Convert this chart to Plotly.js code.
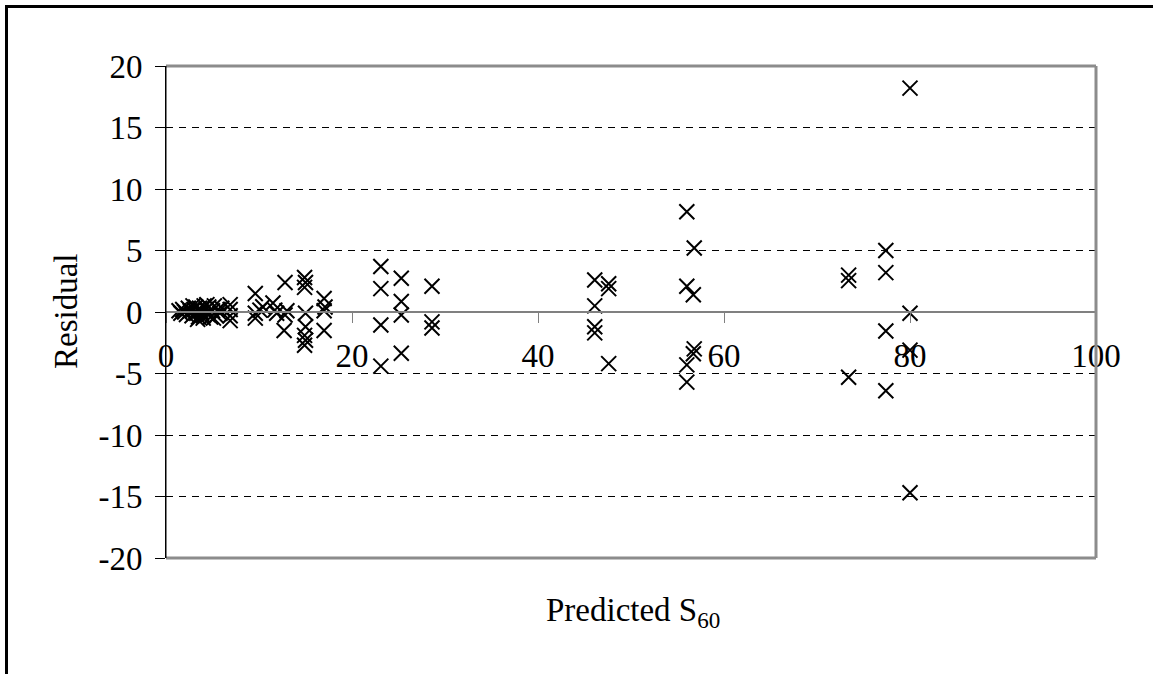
<!DOCTYPE html>
<html>
<head>
<meta charset="utf-8">
<script src="https://cdn.plot.ly/plotly-3.0.1.min.js"></script>
<style>
  html, body { margin: 0; padding: 0; background: #fff; }
  #chart { width: 1153px; height: 674px; }
</style>
</head>
<body>
<div id="chart"></div>
<script>
// Predicted S60 (x) and residual (y)
const predicted = [
  1.4, 1.6, 1.8, 2.0, 2.2, 2.4, 2.6, 2.8, 3.0, 3.2, 3.3, 3.5, 3.6, 3.8, 4.0,
  4.1, 4.3, 4.5, 4.6, 4.8, 5.0, 5.2, 5.4, 5.6, 5.8, 6.0, 6.9, 6.9, 6.9, 6.9,
  3.4, 4.4, 5.1, 2.9, 4.0,
  9.6, 9.6, 9.6, 10.1, 10.4, 11.5, 11.7, 11.9, 12.8, 12.8, 12.7, 13.0,
  14.9, 15.0, 14.9, 15.0, 15.0, 14.9, 15.0, 14.9,
  17.0, 17.1, 17.0, 17.0,
  23.1, 23.1, 23.1, 23.1,
  25.3, 25.3, 25.3, 25.3,
  28.6, 28.6, 28.6,
  46.1, 47.6, 47.6, 46.1, 46.1, 46.1, 47.6,
  56.0, 56.8, 56.0, 56.7, 56.8, 56.7, 56.0, 56.0,
  73.4, 73.4, 73.4, 77.4, 77.4, 77.4, 77.4,
  80.0, 80.0, 80.0, 80.0
];
const residual = [
  0.1, -0.1, 0.2, 0.0, -0.2, 0.3, 0.1, -0.3, 0.2, 0.4, -0.1, -0.4, 0.3, 0.0, -0.5,
  0.5, 0.2, -0.2, 0.4, -0.4, 0.1, 0.5, -0.3, 0.2, -0.1, 0.3, 0.6, 0.2, -0.3, -0.7,
  -0.6, 0.6, -0.5, 0.5, -0.3,
  1.5, -0.1, -0.5, 0.15, 0.43, 0.73, 0.15, -0.1, 2.4, -0.25, -1.5, 0.1,
  2.8, 2.4, 2.0, -0.1, -1.2, -1.9, -2.3, -2.7,
  1.1, 0.4, 0.1, -1.5,
  3.7, 1.9, -1.05, -4.4,
  2.75, 0.85, -0.25, -3.35,
  2.1, -0.8, -1.3,
  2.6, 2.3, 1.9, 0.5, -1.2, -1.7, -4.2,
  8.15, 5.2, 2.1, 1.4, -3.0, -3.4, -4.3, -5.7,
  3.0, 2.55, -5.3, 5.0, 3.2, -1.55, -6.4,
  18.2, -0.1, -3.1, -14.7
];
const xTickVals = [0, 20, 40, 60, 80, 100];
const yTickVals = [-20, -15, -10, -5, 0, 5, 10, 15, 20];

const serif = "Liberation Serif, Times New Roman, serif";
const FS = 33;
const W = 1153, H = 674;
const L = 166, R = 1096, T = 66, B = 558;
const px = v => (v - L) / (R - L);
const py = v => (B - v) / (B - T);

const trace = {
  type: 'scatter',
  mode: 'markers',
  x: predicted,
  y: residual,
  marker: { symbol: 'x-thin', size: 15, color: '#000', line: { color: '#000', width: 2 } },
  hoverinfo: 'x+y',
  cliponaxis: false
};

const layout = {
  width: W, height: H,
  margin: { l: L, r: W - R, t: T, b: H - B, pad: 0 },
  paper_bgcolor: '#fff',
  plot_bgcolor: '#fff',
  showlegend: false,
  font: { family: serif, size: FS, color: '#000' },
  xaxis: {
    range: [0, 100],
    tickvals: xTickVals,
    ticktext: xTickVals.map(String),
    anchor: 'free',
    position: 0.5,
    showgrid: false,
    zeroline: false,
    showline: true,
    linecolor: '#808080',
    linewidth: 2,
    ticks: 'outside',
    ticklen: 10,
    tickwidth: 1,
    tickcolor: '#808080',
    ticklabelstandoff: 4,
    tickfont: { family: serif, size: FS, color: '#000' },
    fixedrange: true
  },
  yaxis: {
    range: [-20, 20],
    tickvals: yTickVals,
    ticktext: yTickVals.map(String),
    showgrid: true,
    gridcolor: '#000',
    gridwidth: 1,
    griddash: '7px,6px',
    zeroline: false,
    showline: true,
    linecolor: '#000',
    linewidth: 1,
    ticks: 'outside',
    ticklen: 10,
    tickwidth: 1,
    tickcolor: '#000',
    ticklabelstandoff: 6,
    tickfont: { family: serif, size: FS, color: '#000' },
    fixedrange: true
  },
  shapes: [
    // plot area border (gray)
    { type: 'line', xref: 'paper', yref: 'paper', x0: 0, x1: 1, y0: 1, y1: 1, line: { color: '#8c8c8c', width: 3 } },
    { type: 'line', xref: 'paper', yref: 'paper', x0: 1, x1: 1, y0: 0, y1: 1, line: { color: '#8c8c8c', width: 3 } },
    { type: 'line', xref: 'paper', yref: 'paper', x0: 0, x1: 1, y0: 0, y1: 0, line: { color: '#8c8c8c', width: 3 } },
    { type: 'line', xref: 'paper', yref: 'paper', x0: 0, x1: 0, y0: 0, y1: 1, line: { color: '#000', width: 1 } },
    // outer chart frame (left and top edges visible)
    { type: 'line', xref: 'paper', yref: 'paper', x0: px(6.5), x1: px(6.5), y0: py(700), y1: py(5), line: { color: '#000', width: 3 } },
    { type: 'line', xref: 'paper', yref: 'paper', x0: px(5), x1: px(1200), y0: py(6.5), y1: py(6.5), line: { color: '#000', width: 3 } }
  ],
  annotations: [
    {
      xref: 'paper', yref: 'paper', x: px(66), y: 0.5,
      text: 'Residual', textangle: -90, showarrow: false,
      xanchor: 'center', yanchor: 'middle',
      font: { family: serif, size: FS, color: '#000' }
    },
    {
      xref: 'paper', yref: 'paper', x: px(633), y: py(612),
      text: 'Predicted S<sub>60</sub>', showarrow: false,
      xanchor: 'center', yanchor: 'middle',
      font: { family: serif, size: FS, color: '#000' }
    }
  ]
};

Plotly.newPlot('chart', [trace], layout, { staticPlot: true, displayModeBar: false });
</script>
</body>
</html>
